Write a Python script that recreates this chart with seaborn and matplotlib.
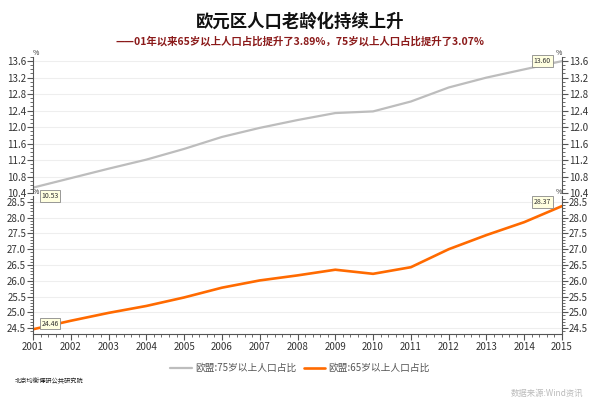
import matplotlib
matplotlib.use("Agg")
import matplotlib.pyplot as plt
from matplotlib.ticker import MultipleLocator, FormatStrFormatter
from matplotlib.lines import Line2D
import seaborn as sns
import pandas as pd

sns.set_theme(style="white")
plt.rcParams['font.family'] = ['Noto Sans CJK SC', 'DejaVu Sans']

years = list(range(2001, 2016))
eu_75 = [10.53, 10.76, 10.99, 11.21, 11.47, 11.76, 11.98, 12.17, 12.34, 12.38, 12.62, 12.96, 13.20, 13.40, 13.60]
eu_65 = [24.46, 24.73, 24.98, 25.20, 25.47, 25.78, 26.01, 26.17, 26.35, 26.22, 26.43, 27.00, 27.45, 27.86, 28.37]
label_75 = "欧盟:75岁以上人口占比"
label_65 = "欧盟:65岁以上人口占比"
title = "欧元区人口老龄化持续上升"
subtitle = "——01年以来65岁以上人口占比提升了3.89%，75岁以上人口占比提升了3.07%"
footer_left = "北京均衡博研公共研究院"
footer_right = "数据来源:Wind资讯"

df75 = pd.DataFrame({"year": years, "value": eu_75})
df65 = pd.DataFrame({"year": years, "value": eu_65})

GRAY = "#BDBDBD"
ORANGE = "#FF6A00"
AXC = "#555555"

fig = plt.figure(figsize=(6.0, 4.01), dpi=100)
L, R = 33/600, 562/600
ax2 = fig.add_axes([L, 1-334/401, R-L, (334-196)/401])
ax1 = fig.add_axes([L, 1-193/401, R-L, (193-57)/401])
ax1.set_facecolor('none')
ax2.set_facecolor('none')

sns.lineplot(data=df75, x="year", y="value", ax=ax1, color=GRAY, lw=1.6, legend=False)
sns.lineplot(data=df65, x="year", y="value", ax=ax2, color=ORANGE, lw=1.9, legend=False)

ax1.set_ylim(10.4, 13.70)
ax2.set_ylim(24.31, 28.69)
for ax in (ax1, ax2):
    ax.set_xlim(2001, 2015)
    ax.set_xlabel("")
    ax.set_ylabel("")
    ax.grid(axis='y', color='#EEEEEE', lw=0.8)
    ax.grid(axis='x', visible=False)
    ax.spines['top'].set_visible(False)
    for s in ('left', 'right', 'bottom'):
        ax.spines[s].set_color(AXC)
        ax.spines[s].set_linewidth(0.8)
    ax.tick_params(axis='y', which='both', left=True, right=True, labelleft=True, labelright=True,
                   direction='out', color=AXC, labelsize=7, labelcolor='#333333', pad=1)
    ax.tick_params(axis='y', which='major', length=4, width=0.8)
    ax.tick_params(axis='y', which='minor', length=2, width=0.6)
    ax.text(0.0, 1.0, "%", transform=ax.transAxes, fontsize=5, ha='left', va='bottom', color='#333333')
    ax.text(1.0, 1.0, "%", transform=ax.transAxes, fontsize=5, ha='right', va='bottom', color='#333333')

ax1.yaxis.set_major_locator(MultipleLocator(0.4))
ax1.yaxis.set_minor_locator(MultipleLocator(0.1))
ax1.yaxis.set_major_formatter(FormatStrFormatter('%.1f'))
ax2.yaxis.set_major_locator(MultipleLocator(0.5))
ax2.yaxis.set_minor_locator(MultipleLocator(0.1))
ax2.yaxis.set_major_formatter(FormatStrFormatter('%.1f'))

ax1.spines['bottom'].set_visible(False)
ax1.tick_params(axis='x', which='both', bottom=False, labelbottom=False)
ax2.xaxis.set_major_locator(MultipleLocator(1))
ax2.xaxis.set_minor_locator(MultipleLocator(0.2))
ax2.xaxis.set_major_formatter(FormatStrFormatter('%d'))
ax2.tick_params(axis='x', which='both', bottom=True, direction='out', color=AXC, labelsize=7,
                labelcolor='#333333', pad=2)
ax2.tick_params(axis='x', which='major', length=4, width=0.8)
ax2.tick_params(axis='x', which='minor', length=2, width=0.6)

box = dict(boxstyle='square,pad=0.25', fc='#FFFFE0', ec='#888888', lw=0.6)
ax1.annotate(f"{eu_75[0]:.2f}", (years[0], eu_75[0]), xytext=(6, -6), textcoords='offset points',
             fontsize=5, ha='left', va='center', bbox=box, color='#333333', zorder=10, annotation_clip=False)
ax1.annotate(f"{eu_75[-1]:.2f}", (years[-1], eu_75[-1]), xytext=(-8, 0), textcoords='offset points',
             fontsize=5, ha='right', va='center', bbox=box, color='#333333', zorder=10)
ax2.annotate(f"{eu_65[0]:.2f}", (years[0], eu_65[0]), xytext=(6, 4), textcoords='offset points',
             fontsize=5, ha='left', va='center', bbox=box, color='#333333', zorder=10)
ax2.annotate(f"{eu_65[-1]:.2f}", (years[-1], eu_65[-1]), xytext=(-8, 3), textcoords='offset points',
             fontsize=5, ha='right', va='center', bbox=box, color='#333333', zorder=10)

fig.text(0.5, 1-22/401, title, ha='center', va='center', fontsize=12.5, fontweight='bold', color='#111111')
fig.text(0.5, 1-41/401, subtitle, ha='center', va='center', fontsize=7.5, fontweight='bold', color='#8B1A1A')

handles = [Line2D([], [], color=GRAY, lw=1.6), Line2D([], [], color=ORANGE, lw=1.9)]
fig.legend(handles, [label_75, label_65], loc='center', bbox_to_anchor=(0.5, 1-368/401), ncol=2,
           frameon=False, fontsize=7, handlelength=2.2, handletextpad=0.3, columnspacing=0.8,
           labelcolor='#555555')

fig.text(15/600, 1-381/401, footer_left, ha='left', va='center', fontsize=4.5, style='italic', color='#222222')
fig.text(583/600, 1-393/401, footer_right, ha='right', va='center', fontsize=6, style='italic', color='#BBBBBB')

fig.savefig("out.png", dpi=100, facecolor='white')
